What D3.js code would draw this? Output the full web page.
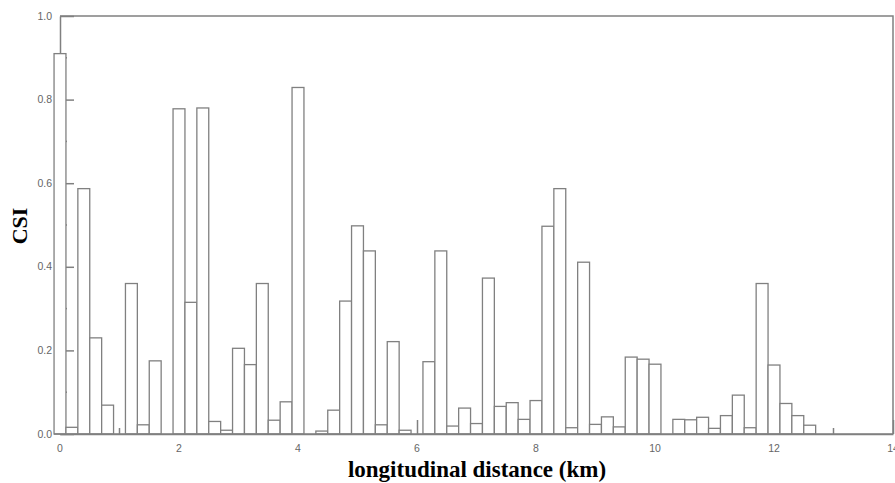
<!DOCTYPE html>
<html>
<head>
<meta charset="utf-8">
<script src="https://cdn.jsdelivr.net/npm/d3@7"></script>
<style>
  html, body { margin: 0; padding: 0; background: #fff; }
  svg { display: block; }
</style>
</head>
<body>
<div id="chart"></div>
<script>
// ---- data ----
const positions = [0, 0.2, 0.4, 0.6, 0.8, 1.2, 1.4, 1.6, 2.0, 2.2, 2.4, 2.6, 2.8, 3.0, 3.2, 3.4, 3.6, 3.8, 4.0,
  4.4, 4.6, 4.8, 5.0, 5.2, 5.4, 5.6, 5.8, 6.2, 6.4, 6.6, 6.8, 7.0, 7.2, 7.4, 7.6, 7.8, 8.0, 8.2, 8.4, 8.6, 8.8,
  9.0, 9.2, 9.4, 9.6, 9.8, 10.0, 10.4, 10.6, 10.8, 11.0, 11.2, 11.4, 11.6, 11.8, 12.0, 12.2, 12.4, 12.6];
const csi = [0.91, 0.016, 0.587, 0.23, 0.069, 0.36, 0.022, 0.175, 0.778, 0.315, 0.78, 0.03, 0.009, 0.205, 0.166, 0.36, 0.033, 0.077, 0.829,
  0.007, 0.057, 0.318, 0.498, 0.438, 0.022, 0.221, 0.009, 0.173, 0.438, 0.019, 0.062, 0.025, 0.373, 0.066, 0.075, 0.035, 0.08, 0.497, 0.587, 0.015, 0.411,
  0.023, 0.041, 0.017, 0.184, 0.179, 0.167, 0.035, 0.034, 0.04, 0.0135, 0.044, 0.093, 0.015, 0.36, 0.165, 0.073, 0.044, 0.021];
const binWidth = 0.2;
const xTickLabels = [0, 2, 4, 6, 8, 10, 12, 14];
const xMinorTicks = [1, 3, 5, 7, 9, 11, 13];
const yTickLabels = [0, 0.2, 0.4, 0.6, 0.8, 1.0];
const yMinorTicks = [0.1, 0.3, 0.5, 0.7, 0.9];
const xTitle = "longitudinal distance (km)";
const yTitle = "CSI";

// ---- layout ----
const W = 895, H = 483;
const mLeft = 60, mRight = 893, mTop = 16, mBottom = 434;
const lineColor = "#808080";

const svg = d3.select("#chart").append("svg").attr("width", W).attr("height", H);

const x = d3.scaleLinear().domain([0, 14]).range([mLeft, mRight]);
const y = d3.scaleLinear().domain([0, 1]).range([mBottom, mTop]);

// frame (top and right)
svg.append("path")
  .attr("d", `M${mLeft},${mTop}H${mRight}V${mBottom}`)
  .attr("fill", "none").attr("stroke", lineColor).attr("stroke-width", 1.5);

// left axis, inward ticks
const yAxis = d3.axisRight(y).tickValues(yTickLabels).tickSize(14).tickFormat("").tickSizeOuter(0);
const gy = svg.append("g").attr("transform", `translate(${mLeft},0)`).call(yAxis);
gy.append("g").selectAll("line").data(yMinorTicks).join("line")
  .attr("x1", 0).attr("x2", 7).attr("y1", d => y(d)).attr("y2", d => y(d));
gy.selectAll("path.domain").attr("stroke", lineColor).attr("stroke-width", 1.5);
gy.selectAll("line").attr("stroke", lineColor).attr("stroke-width", 1.5);

// bottom axis, inward ticks
const xAxis = d3.axisTop(x).tickValues(xTickLabels).tickSize(14).tickFormat("").tickSizeOuter(0);
const gx = svg.append("g").attr("transform", `translate(0,${mBottom})`).call(xAxis);
gx.append("g").selectAll("line").data(xMinorTicks).join("line")
  .attr("x1", d => x(d)).attr("x2", d => x(d)).attr("y1", 0).attr("y2", -6);
gx.selectAll("path.domain").attr("stroke", lineColor).attr("stroke-width", 1.5);
gx.selectAll("line").attr("stroke", lineColor).attr("stroke-width", 1.5);

// bars
const bw = x(binWidth) - x(0);
svg.append("g").selectAll("rect").data(positions).join("rect")
  .attr("x", d => x(d) - bw / 2)
  .attr("y", (d, i) => y(csi[i]))
  .attr("width", bw)
  .attr("height", (d, i) => y(0) - y(csi[i]))
  .attr("fill", "#fff")
  .attr("stroke", lineColor)
  .attr("stroke-width", 1.3);

// redraw bottom axis line on top of bar bottoms
svg.append("line").attr("x1", mLeft - bw / 2).attr("x2", mRight)
  .attr("y1", mBottom).attr("y2", mBottom)
  .attr("stroke", lineColor).attr("stroke-width", 1.5);

// tick labels
svg.append("g").selectAll("text").data(yTickLabels).join("text")
  .attr("x", 52).attr("y", d => y(d)).attr("dy", "0.35em")
  .attr("text-anchor", "end")
  .attr("font-family", "Arial, 'Liberation Sans', sans-serif").attr("font-size", 10.5)
  .attr("fill", "#666")
  .text(d => d3.format(".1f")(d));

svg.append("g").selectAll("text").data(xTickLabels).join("text")
  .attr("x", d => x(d)).attr("y", 452)
  .attr("text-anchor", "middle")
  .attr("font-family", "Arial, 'Liberation Sans', sans-serif").attr("font-size", 10.5)
  .attr("fill", "#666")
  .text(d => d);

// axis titles
svg.append("text")
  .attr("x", 477).attr("y", 477)
  .attr("text-anchor", "middle")
  .attr("font-family", "'Liberation Serif', 'Times New Roman', serif")
  .attr("font-weight", "bold").attr("font-size", 23)
  .attr("fill", "#000")
  .text(xTitle);

svg.append("text")
  .attr("transform", "translate(27,226) rotate(-90)")
  .attr("text-anchor", "middle")
  .attr("font-family", "'Liberation Serif', 'Times New Roman', serif")
  .attr("font-weight", "bold").attr("font-size", 22)
  .attr("fill", "#000")
  .text(yTitle);
</script>
</body>
</html>
